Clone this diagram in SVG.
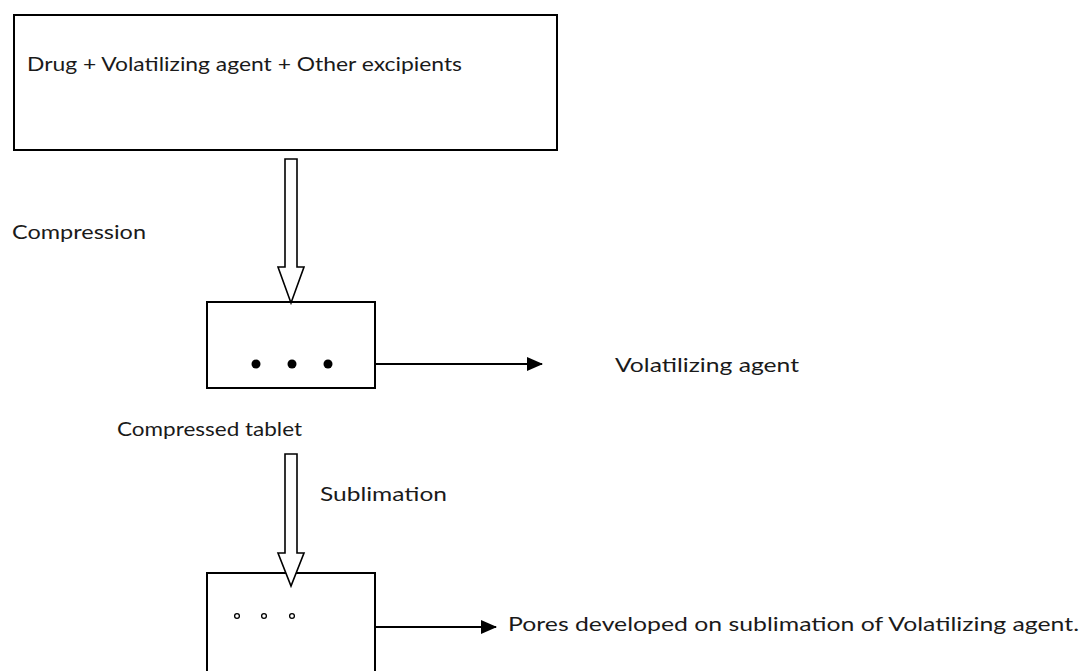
<svg xmlns="http://www.w3.org/2000/svg" width="1085" height="671" viewBox="0 0 1085 671">
<style>
.box{fill:#fff;stroke:#000;stroke-width:2}
.hollow{fill:#fff;stroke:#000;stroke-width:1.6;stroke-linejoin:miter}
.line{stroke:#000;stroke-width:2;fill:none}
.t{font-family:Lato,"Open Sans","Liberation Sans",sans-serif;font-size:20px;fill:#1a1a1a}
.dot{fill:#000}
.pore{fill:#fff;stroke:#000;stroke-width:1.3}
</style>
<defs>
<marker id="ah" markerWidth="16" markerHeight="14" refX="15" refY="7" orient="auto" markerUnits="userSpaceOnUse">
<path d="M0,0 L16,7 L0,14 Z" fill="#000"/>
</marker>
</defs>
<g id="mixture">
<rect class="box" x="14" y="15" width="543" height="135"/>
<text class="t" x="27" y="71" textLength="435" lengthAdjust="spacingAndGlyphs">Drug + Volatilizing agent + Other excipients</text>
</g>
<g id="compressed-tablet">
<rect class="box" x="207" y="302" width="168" height="86"/>
<circle class="dot" cx="256" cy="364" r="4.5"/>
<circle class="dot" cx="292" cy="364" r="4.5"/>
<circle class="dot" cx="328" cy="364" r="4.5"/>
<text class="t" x="117" y="436" textLength="185" lengthAdjust="spacingAndGlyphs">Compressed tablet</text>
</g>
<g id="porous-tablet">
<rect class="box" x="207" y="573" width="168" height="110"/>
<circle class="pore" cx="237" cy="616" r="2.4"/>
<circle class="pore" cx="264" cy="616" r="2.4"/>
<circle class="pore" cx="292" cy="616" r="2.4"/>
</g>
<g id="label-volatilizing">
<text class="t" x="615" y="372" textLength="184" lengthAdjust="spacingAndGlyphs">Volatilizing agent</text>
</g>
<g id="label-pores">
<text class="t" x="508" y="631" textLength="571" lengthAdjust="spacingAndGlyphs">Pores developed on sublimation of Volatilizing agent.</text>
</g>
<g id="connectors">
<path class="hollow" d="M285,159 L297,159 L297,267 L304,267 L291,303 L278,267 L285,267 Z"/>
<text class="t" x="12" y="239" textLength="134" lengthAdjust="spacingAndGlyphs">Compression</text>
<path class="hollow" d="M285,454 L297,454 L297,553 L304,553 L291,586 L278,553 L285,553 Z"/>
<text class="t" x="320" y="501" textLength="127" lengthAdjust="spacingAndGlyphs">Sublimation</text>
<line class="line" x1="375" y1="364" x2="542" y2="364" marker-end="url(#ah)"/>
<line class="line" x1="375" y1="627" x2="496" y2="627" marker-end="url(#ah)"/>
</g>
</svg>
